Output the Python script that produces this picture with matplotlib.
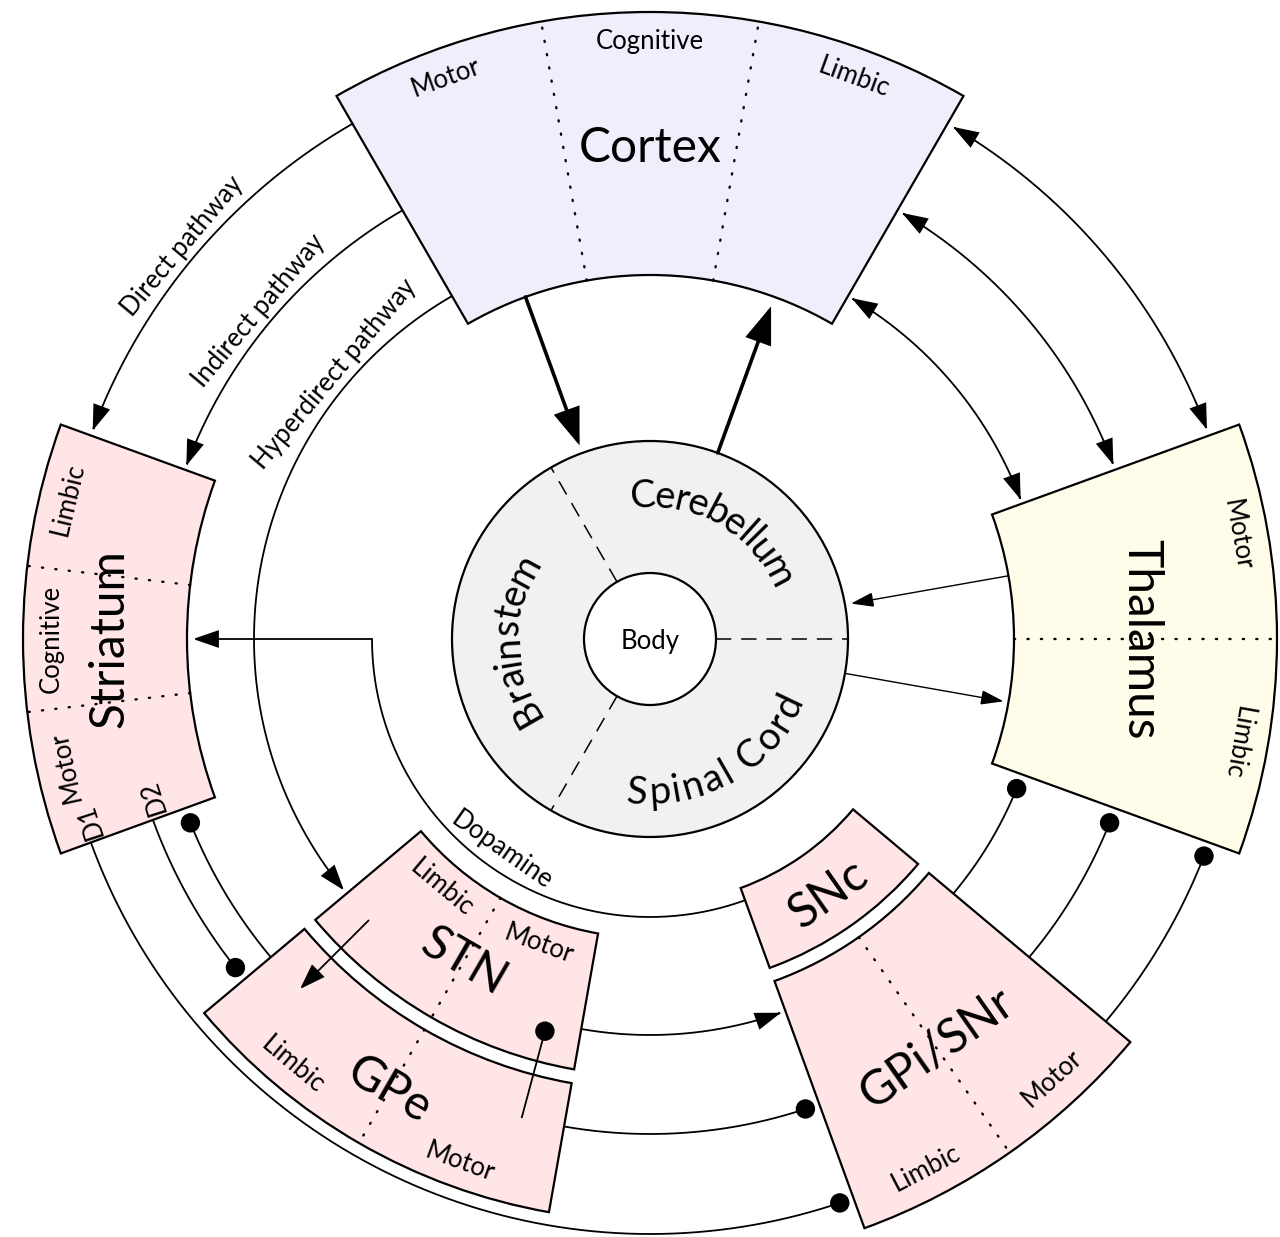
import numpy as np
import matplotlib.pyplot as plt
from matplotlib.patches import Wedge, Circle, FancyArrowPatch
from matplotlib.path import Path
from matplotlib.textpath import TextToPath
from matplotlib.font_manager import FontProperties

plt.rcParams['font.family'] = ['Lato', 'DejaVu Sans']

# centre of the diagram in pixels (y pointing up)
CX, CY = 650, 598

# outer ring of nuclei: radii and angular span in degrees
REGIONS = ["Cortex", "Thalamus", "Striatum", "STN", "GPe", "SNc", "GPi/SNr"]
R_IN = [364, 364, 463, 299, 451, 265, 364]
R_OUT = [627, 627, 627, 437, 582, 350, 627]
ANG_FROM = [60, -20, 160, 220, 220, 290, 290]
ANG_TO = [120, 20, 200, 260, 260, 320, 320]

# territories written inside the nuclei
SUB_NAMES = ["Motor", "Cognitive", "Limbic", "Motor", "Limbic",
             "Limbic", "Cognitive", "Motor", "D1", "D2",
             "Limbic", "Motor", "Limbic", "Motor", "Limbic", "Motor"]
SUB_ANG = [110, 90, 70, 10, -10, 166.5, 180, 192.3, 198, 197.6,
           230, 250, 230, 250, 297.5, 312.5]
SUB_R = [600, 600, 600, 599, 599, 601, 601, 601, 591, 524,
         322, 322, 554, 554, 594, 593]

# dotted borders between territories
DIV_ANG = [80, 100, 0, 173.3, 186.7, 240, 240, 305]
DIV_R_IN = [364, 364, 364, 463, 463, 299, 451, 364]
DIV_R_OUT = [627, 627, 627, 627, 627, 437, 582, 627]

# inner disc
CORE_LABELS = ["Cerebellum", "Brainstem", "Spinal Cord"]
CORE_ANG = [60, 180, 300]
CORE_DIV = [0, 120, 240]
R_CORE, R_BODY = 198, 66

# projections running along circles round the centre
ARC_R = [595, 495, 396, 595, 495, 396, 396, 495, 595, 529, 495, 396, 495, 595]
ARC_FROM = [120, 120, 120, 59.4, 59.4, 59.4, 260, 260, 200, 200, 220, 320, 320, 320]
ARC_TO = [159.5, 159.5, 219.4, 20.6, 20.6, 20.6, 289.3, 288.3, 288.6, 218.4, 201.8, 337.8, 338.2, 338.6]
ARC_KIND = ["exc", "exc", "exc", "both", "both", "both", "exc", "inh", "inh", "inh", "inh", "inh", "inh", "inh"]

# straight radial projections
RAD_ANG = [110, 70, 10, -10, 225, 255]
RAD_FROM = [364, 198, 364, 198, 398, 496]
RAD_TO = [206, 354, 204, 359, 495, 406]
RAD_KIND = ["exc", "exc", "exc", "exc", "exc", "inh"]

# dopamine projection: arc from SNc then straight into striatum
DA_R, DA_FROM, DA_TO, DA_END = 278, 290, 180, 457

PATH_LABELS = ["Direct pathway", "Indirect pathway", "Hyperdirect pathway", "Dopamine"]
PATH_LABEL_R = [613, 513, 414, 256]
PATH_LABEL_ANG = [140, 140, 140, 235]

FILLS = {"Cortex": "#efeffc", "Thalamus": "#fffcea"}
PINK = "#ffe5e5"
GREY = "#f1f1f1"

BIG, SMALL, CORE = 34.5, 18.5, 27.5


def pt(r, a):
    t = np.radians(a)
    return CX + r * np.cos(t), CY + r * np.sin(t)


def arc(r, a0, a1, n=240):
    t = np.radians(np.linspace(a0, a1, n))
    return np.column_stack([CX + r * np.cos(t), CY + r * np.sin(t)])


def tangent_rot(a):
    a = a % 360
    return a + 90 if 200 < a < 340 else a - 90


fig = plt.figure(figsize=(12.8, 12.37), dpi=100)
ax = fig.add_axes([0, 0, 1, 1])
ax.set_xlim(0, 1280)
ax.set_ylim(0, 1237)
ax.axis('off')


def label(x, y, s, size, rot):
    ax.text(x, y, s, fontsize=size, rotation=rot % 360, rotation_mode='anchor',
            ha='center', va='center_baseline', zorder=5)


def connect(verts, kind, lw=1.3, hl=16, hw=5.5):
    if kind == "inh":
        ax.plot(verts[:, 0], verts[:, 1], color='black', lw=lw, zorder=3,
                solid_capstyle='butt')
        ax.add_patch(Circle(verts[-1], 9, color='black', zorder=4))
    else:
        style = '-|>' if kind == "exc" else '<|-|>'
        ax.add_patch(FancyArrowPatch(path=Path(verts), color='black', lw=lw,
                                     arrowstyle=f'{style},head_length={hl},head_width={hw}',
                                     mutation_scale=1, zorder=3, joinstyle='miter'))


# nuclei
for name, r0, r1, a0, a1 in zip(REGIONS, R_IN, R_OUT, ANG_FROM, ANG_TO):
    ax.add_patch(Wedge((CX, CY), r1, a0, a1, width=r1 - r0,
                       fc=FILLS.get(name, PINK), ec='black', lw=1.6, zorder=2))
    mid = (a0 + a1) / 2
    x, y = pt((r0 + r1) / 2, mid)
    label(x, y, name, BIG, tangent_rot(mid))

for a, r0, r1 in zip(DIV_ANG, DIV_R_IN, DIV_R_OUT):
    (x0, y0), (x1, y1) = pt(r0, a), pt(r1, a)
    ax.plot([x0, x1], [y0, y1], color='black', lw=1.7, ls=(0, (0.5, 5.2)),
            zorder=3, dash_capstyle='round')

for s, a, r in zip(SUB_NAMES, SUB_ANG, SUB_R):
    x, y = pt(r, a)
    label(x, y, s, SMALL, tangent_rot(a))

# inner disc
ax.add_patch(Circle((CX, CY), R_CORE, fc=GREY, ec='black', lw=1.6, zorder=2))
for a in CORE_DIV:
    (x0, y0), (x1, y1) = pt(R_BODY, a), pt(R_CORE, a)
    ax.plot([x0, x1], [y0, y1], color='black', lw=1.1, ls=(0, (10, 6.5)), zorder=3)
ax.add_patch(Circle((CX, CY), R_BODY, fc='white', ec='black', lw=1.6, zorder=3))
label(CX, CY, "Body", SMALL, 0)

t2p = TextToPath()


def ink_width(s, size):
    fp = FontProperties(family='Lato', size=size)
    return t2p.get_text_width_height_descent(s, fp, ismath=False)[0] * 100 / 72


def curved_text(s, r, a_mid, size, outward=True, spread=1.0):
    total = ink_width(s, size)
    for i, ch in enumerate(s):
        if ch == ' ':
            continue
        c = ink_width(s[:i + 1], size) - ink_width(ch, size) / 2
        off = spread * np.degrees((c - total / 2) / r)
        a = a_mid - off if outward else a_mid + off
        x, y = pt(r, a)
        ax.text(x, y, ch, fontsize=size, rotation=(a - 90 if outward else a + 90) % 360,
                rotation_mode='anchor', ha='center', va='baseline', zorder=5)


curved_text(CORE_LABELS[0], 132, CORE_ANG[0], CORE, outward=True, spread=0.92)
curved_text(CORE_LABELS[1], 132, CORE_ANG[1], CORE, outward=True, spread=0.95)
curved_text(CORE_LABELS[2], 165, CORE_ANG[2], CORE, outward=False, spread=1.16)

# projections
for r, a0, a1, kind in zip(ARC_R, ARC_FROM, ARC_TO, ARC_KIND):
    connect(arc(r, a0, a1), kind)

for i, (a, r0, r1, kind) in enumerate(zip(RAD_ANG, RAD_FROM, RAD_TO, RAD_KIND)):
    verts = np.array([pt(r0, a), pt(r1, a)])
    if i < 2:
        connect(verts, kind, lw=2.6, hl=22, hw=8)
    elif i < 4:
        connect(verts, kind, lw=1.0, hl=14, hw=4.5)
    else:
        connect(verts, kind)

da = np.vstack([arc(DA_R, DA_FROM, DA_TO), [pt(DA_END, DA_TO)]])
connect(da, "exc")

for s, r, a in zip(PATH_LABELS, PATH_LABEL_R, PATH_LABEL_ANG):
    x, y = pt(r, a)
    label(x, y, s, SMALL, tangent_rot(a))

fig.savefig('out.png', dpi=100, facecolor='white')
